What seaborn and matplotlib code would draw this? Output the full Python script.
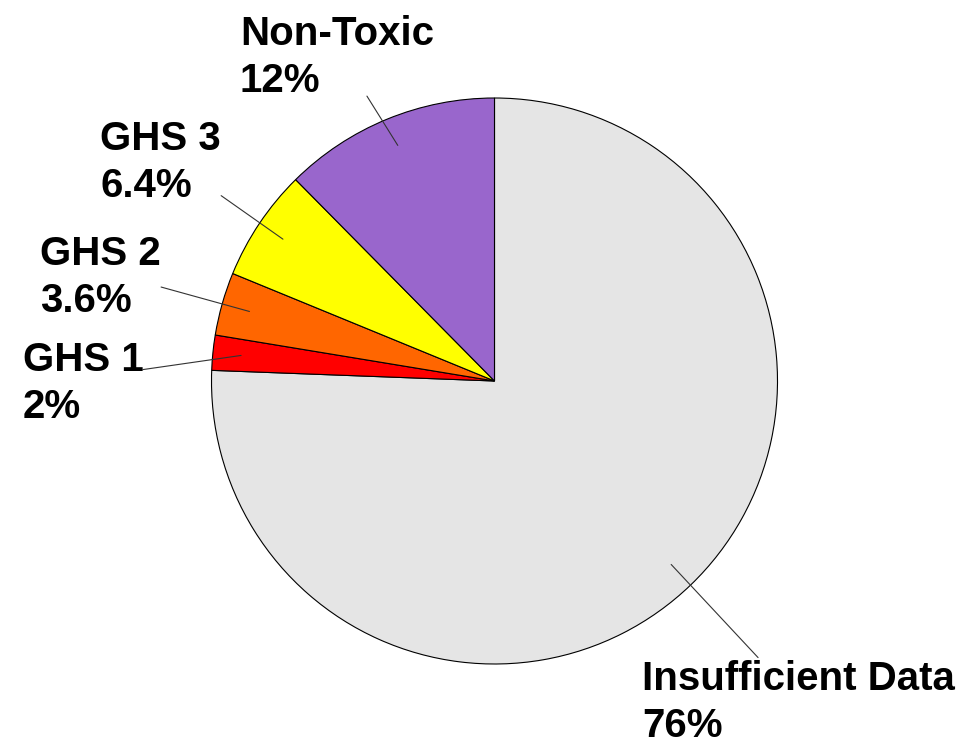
import numpy as np
import seaborn as sns
from matplotlib import pyplot as plt

# Shares (labels are rounded to 2 significant digits)
categories = ["Insufficient Data", "GHS 1", "GHS 2", "GHS 3", "Non-Toxic"]
shares = [75.6, 2.0, 3.6, 6.4, 12.4]
pct_labels = ["76%", "2%", "3.6%", "6.4%", "12%"]
colors = ["#E5E5E5", "#FF0000", "#FF6600", "#FFFF00", "#9966CC"]

# label placement: leader end radius, angle nudge (deg), text offset (px)
label_radius = [1.35, 1.243, 1.224, 1.167, 1.103]
label_nudge = [-0.3, 3.9, 0.1, -0.3, 1.8]
text_dx = [-116, -120, -121, -121, -127]
text_dy = [-2, 29, 52, 76, 81]

sns.set_theme(style="white")
plt.rcParams['font.family'] = ['Liberation Sans', 'DejaVu Sans']

fig = plt.figure(figsize=(9.64, 7.43), dpi=100)
ax = fig.add_axes([0, 0, 1, 1])

palette = sns.color_palette(colors)
wedges, _ = ax.pie(shares, colors=palette, startangle=90, counterclock=False,
                   radius=1, wedgeprops=dict(edgecolor="black", linewidth=0.8))

# pie centre and radius in pixels
cx, cy, r = 494.5, 381, 283
ax.set_xlim(-cx / r, (964 - cx) / r)
ax.set_ylim(-(743 - cy) / r, cy / r)
ax.set_aspect("equal")
ax.axis("off")

for w, name, pct, rad, nudge, dx, dy in zip(wedges, categories, pct_labels,
                                             label_radius, label_nudge, text_dx, text_dy):
    mid = np.deg2rad((w.theta1 + w.theta2) / 2)
    x0, y0 = 0.9 * np.cos(mid), 0.9 * np.sin(mid)
    a = mid + np.deg2rad(nudge)
    x1, y1 = rad * np.cos(a), rad * np.sin(a)
    ax.plot([x0, x1], [y0, y1], color="#333333", lw=0.8)
    ax.annotate(name + "\n" + pct, (x1, y1), xytext=(dx, dy), textcoords="offset pixels",
                ha="left", va="top", fontsize=29, fontweight="bold", linespacing=1.3,
                color="black")

fig.savefig("out.png", dpi=100)
